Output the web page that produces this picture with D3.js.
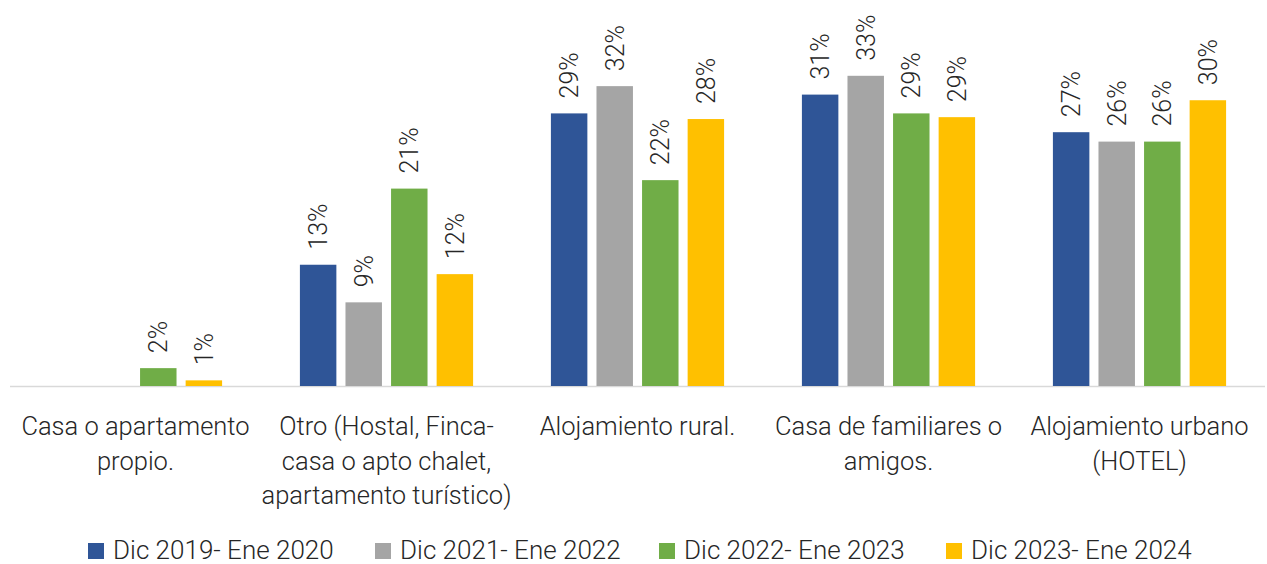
<!DOCTYPE html>
<html>
<head>
<meta charset="utf-8">
<script src="https://cdn.jsdelivr.net/npm/d3@7"></script>
<style>
  html, body { margin: 0; padding: 0; background: #fff; }
  svg { display: block; font-family: Roboto, "Noto Sans", sans-serif; font-weight: 300; }
</style>
</head>
<body>
<svg id="chart" width="1267" height="564"></svg>
<script>
const categories = [
  "Casa o apartamento propio.",
  "Otro (Hostal, Finca-casa o apto chalet, apartamento turístico)",
  "Alojamiento rural.",
  "Casa de familiares o amigos.",
  "Alojamiento urbano (HOTEL)"
];
const categoryLines = [
  ["Casa o apartamento", "propio."],
  ["Otro (Hostal, Finca-", "casa o apto chalet,", "apartamento turístico)"],
  ["Alojamiento rural."],
  ["Casa de familiares o", "amigos."],
  ["Alojamiento urbano", "(HOTEL)"]
];
const seriesNames = ["Dic 2019- Ene 2020", "Dic 2021- Ene 2022", "Dic 2022- Ene 2023", "Dic 2023- Ene 2024"];
const seriesColors = ["#2F5597", "#A5A5A5", "#70AD47", "#FFC000"];
const s2019 = [null, 12.9, 29.0, 31.0, 27.0];
const s2021 = [null, 8.9, 31.9, 33.0, 26.0];
const s2022 = [1.9, 21.0, 21.9, 29.0, 26.0];
const s2023 = [0.6, 11.9, 28.4, 28.6, 30.4];
const seriesValues = [s2019, s2021, s2022, s2023];

const svg = d3.select("#chart");
const baseY = 386;
const x0 = d3.scaleBand().domain(categories).range([10, 1265]).paddingInner(0.31).paddingOuter(0.155);
const x1 = d3.scaleBand().domain(seriesNames).range([0, x0.bandwidth()]).paddingInner(0.2);
const y = d3.scaleLinear().domain([0, 35]).range([baseY, baseY - 35 * 9.4]);

const data = [];
categories.forEach((c, ci) => {
  seriesNames.forEach((s, si) => {
    const v = seriesValues[si][ci];
    if (v != null) data.push({ c, s, si, v });
  });
});

// axis line
svg.append("line")
  .attr("x1", 10).attr("x2", 1265)
  .attr("y1", baseY + 0.5).attr("y2", baseY + 0.5)
  .attr("stroke", "#D9D9D9").attr("stroke-width", 1.5);

svg.append("g").selectAll("rect").data(data).join("rect")
  .attr("x", d => x0(d.c) + x1(d.s))
  .attr("width", x1.bandwidth())
  .attr("y", d => y(d.v))
  .attr("height", d => y(0) - y(d.v))
  .attr("fill", d => seriesColors[d.si]);

// data labels
svg.append("g").selectAll("text").data(data).join("text")
  .attr("transform", d => {
    const cx = x0(d.c) + x1(d.s) + x1.bandwidth() / 2;
    return `translate(${cx + 9},${y(d.v) - 15}) rotate(-90)`;
  })
  .attr("text-anchor", "start")
  .attr("font-size", 25)
  .attr("fill", "#262626")
  .text(d => Math.round(d.v) + "%");

// category labels
const catG = svg.append("g");
categories.forEach((c, ci) => {
  const cx = x0(c) + x0.bandwidth() / 2;
  const t = catG.append("text")
    .attr("text-anchor", "middle")
    .attr("font-size", 25.5)
    .attr("fill", "#262626");
  categoryLines[ci].forEach((line, li) => {
    t.append("tspan").attr("x", cx).attr("y", 435 + li * 34.5).text(line);
  });
});

// legend
const legendX = [88, 375, 659, 946];
const lg = svg.append("g");
seriesNames.forEach((s, i) => {
  lg.append("rect").attr("x", legendX[i]).attr("y", 543).attr("width", 16).attr("height", 16).attr("fill", seriesColors[i]);
  lg.append("text").attr("x", legendX[i] + 25).attr("y", 558.5)
    .attr("font-size", 26).attr("fill", "#262626").text(s);
});
</script>
</body>
</html>
